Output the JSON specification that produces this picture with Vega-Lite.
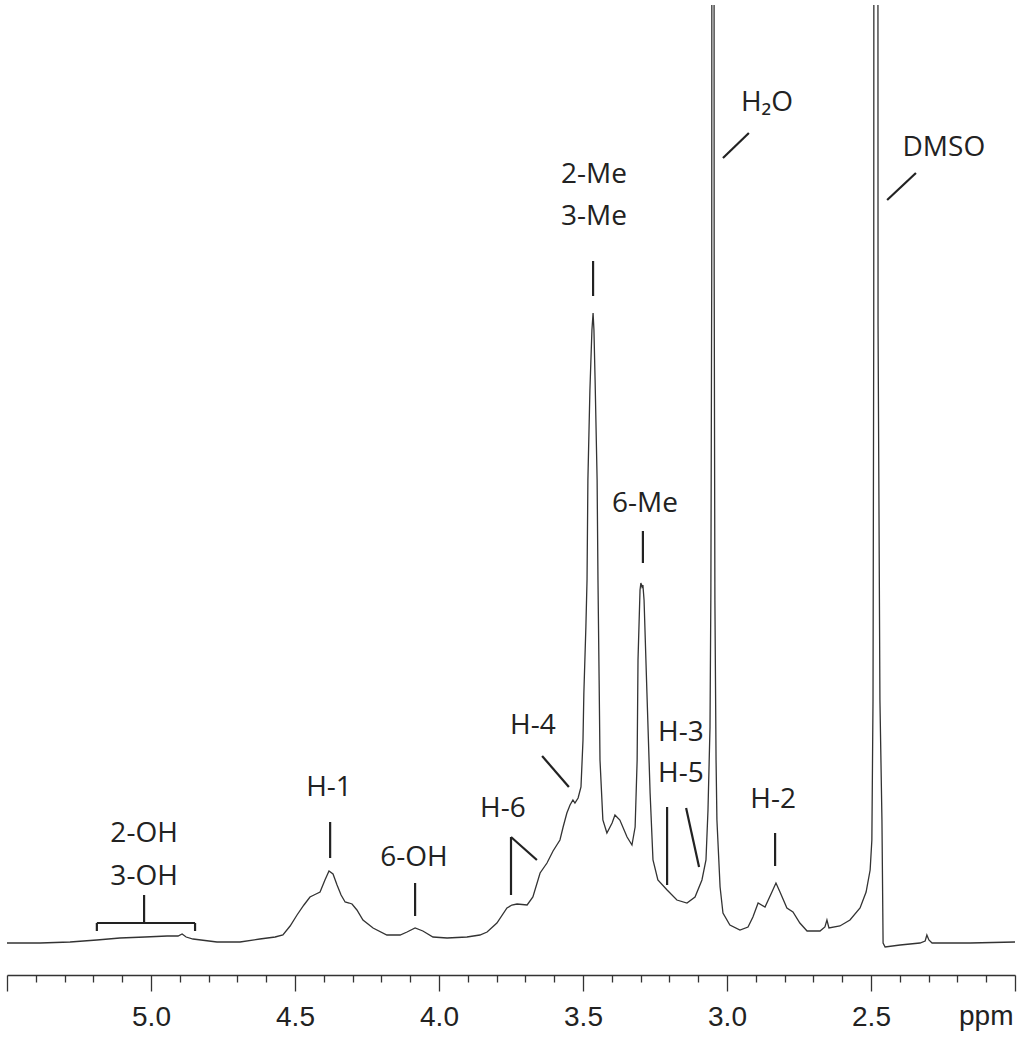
{
  "$schema": "https://vega.github.io/schema/vega-lite/v6.json",
  "width": 1008,
  "height": 970,
  "autosize": {"type": "none"},
  "padding": {"left": 7, "top": 5, "right": 9, "bottom": 63},
  "background": "white",
  "config": {"view": {"stroke": null}},
  "datasets": {
    "spectrum": [
      {"ppm": 5.500, "i": 32}, {"ppm": 5.385, "i": 32}, {"ppm": 5.281, "i": 33}, {"ppm": 5.188, "i": 35},
      {"ppm": 5.108, "i": 37}, {"ppm": 5.021, "i": 38}, {"ppm": 4.944, "i": 39}, {"ppm": 4.906, "i": 39},
      {"ppm": 4.892, "i": 41}, {"ppm": 4.878, "i": 38}, {"ppm": 4.854, "i": 36}, {"ppm": 4.771, "i": 33},
      {"ppm": 4.691, "i": 33}, {"ppm": 4.622, "i": 36}, {"ppm": 4.569, "i": 38}, {"ppm": 4.542, "i": 40},
      {"ppm": 4.517, "i": 49}, {"ppm": 4.493, "i": 60}, {"ppm": 4.469, "i": 70}, {"ppm": 4.448, "i": 78},
      {"ppm": 4.427, "i": 81}, {"ppm": 4.413, "i": 83}, {"ppm": 4.396, "i": 95}, {"ppm": 4.382, "i": 104},
      {"ppm": 4.368, "i": 101}, {"ppm": 4.354, "i": 90}, {"ppm": 4.340, "i": 80}, {"ppm": 4.326, "i": 73},
      {"ppm": 4.312, "i": 72}, {"ppm": 4.302, "i": 71}, {"ppm": 4.285, "i": 65}, {"ppm": 4.264, "i": 55},
      {"ppm": 4.229, "i": 47}, {"ppm": 4.181, "i": 40}, {"ppm": 4.135, "i": 40}, {"ppm": 4.111, "i": 43},
      {"ppm": 4.083, "i": 47}, {"ppm": 4.056, "i": 44}, {"ppm": 4.021, "i": 38}, {"ppm": 3.972, "i": 37},
      {"ppm": 3.903, "i": 38}, {"ppm": 3.858, "i": 40}, {"ppm": 3.833, "i": 43}, {"ppm": 3.799, "i": 52},
      {"ppm": 3.764, "i": 67}, {"ppm": 3.747, "i": 70}, {"ppm": 3.729, "i": 71}, {"ppm": 3.694, "i": 70},
      {"ppm": 3.674, "i": 78}, {"ppm": 3.649, "i": 102}, {"ppm": 3.625, "i": 112}, {"ppm": 3.604, "i": 124},
      {"ppm": 3.580, "i": 135}, {"ppm": 3.569, "i": 148}, {"ppm": 3.556, "i": 162}, {"ppm": 3.545, "i": 170},
      {"ppm": 3.535, "i": 175}, {"ppm": 3.528, "i": 172}, {"ppm": 3.517, "i": 177}, {"ppm": 3.507, "i": 188},
      {"ppm": 3.500, "i": 235}, {"ppm": 3.497, "i": 282}, {"ppm": 3.490, "i": 348}, {"ppm": 3.486, "i": 395},
      {"ppm": 3.483, "i": 495}, {"ppm": 3.476, "i": 585}, {"ppm": 3.469, "i": 645}, {"ppm": 3.465, "i": 662},
      {"ppm": 3.462, "i": 645}, {"ppm": 3.458, "i": 595}, {"ppm": 3.451, "i": 495}, {"ppm": 3.448, "i": 395},
      {"ppm": 3.444, "i": 295}, {"ppm": 3.441, "i": 215}, {"ppm": 3.431, "i": 155}, {"ppm": 3.417, "i": 142},
      {"ppm": 3.399, "i": 152}, {"ppm": 3.389, "i": 160}, {"ppm": 3.372, "i": 155}, {"ppm": 3.347, "i": 138},
      {"ppm": 3.330, "i": 130}, {"ppm": 3.319, "i": 148}, {"ppm": 3.312, "i": 215}, {"ppm": 3.309, "i": 315},
      {"ppm": 3.302, "i": 385}, {"ppm": 3.299, "i": 392}, {"ppm": 3.295, "i": 388}, {"ppm": 3.292, "i": 390},
      {"ppm": 3.288, "i": 375}, {"ppm": 3.278, "i": 282}, {"ppm": 3.267, "i": 182}, {"ppm": 3.257, "i": 115},
      {"ppm": 3.240, "i": 95}, {"ppm": 3.208, "i": 85}, {"ppm": 3.174, "i": 75}, {"ppm": 3.139, "i": 72},
      {"ppm": 3.111, "i": 78}, {"ppm": 3.087, "i": 95}, {"ppm": 3.073, "i": 115}, {"ppm": 3.066, "i": 165},
      {"ppm": 3.059, "i": 248}, {"ppm": 3.056, "i": 382}, {"ppm": 3.053, "i": 700}, {"ppm": 3.052, "i": 1500},
      {"ppm": 3.0455, "i": 1500}, {"ppm": 3.0445, "i": 700}, {"ppm": 3.042, "i": 375}, {"ppm": 3.038, "i": 215},
      {"ppm": 3.035, "i": 155},
      {"ppm": 3.024, "i": 88}, {"ppm": 3.014, "i": 62}, {"ppm": 2.990, "i": 50}, {"ppm": 2.955, "i": 45},
      {"ppm": 2.927, "i": 48}, {"ppm": 2.910, "i": 58}, {"ppm": 2.892, "i": 72}, {"ppm": 2.868, "i": 68},
      {"ppm": 2.844, "i": 83}, {"ppm": 2.830, "i": 92}, {"ppm": 2.816, "i": 83}, {"ppm": 2.792, "i": 67},
      {"ppm": 2.771, "i": 63}, {"ppm": 2.747, "i": 52}, {"ppm": 2.722, "i": 44}, {"ppm": 2.677, "i": 44},
      {"ppm": 2.660, "i": 48}, {"ppm": 2.653, "i": 55}, {"ppm": 2.646, "i": 47}, {"ppm": 2.608, "i": 49},
      {"ppm": 2.573, "i": 55}, {"ppm": 2.538, "i": 67}, {"ppm": 2.517, "i": 83}, {"ppm": 2.503, "i": 105},
      {"ppm": 2.497, "i": 135}, {"ppm": 2.493, "i": 275}, {"ppm": 2.4905, "i": 650}, {"ppm": 2.4895, "i": 1500},
      {"ppm": 2.4765, "i": 1500}, {"ppm": 2.4755, "i": 650}, {"ppm": 2.469, "i": 275}, {"ppm": 2.462, "i": 155},
      {"ppm": 2.458, "i": 32},
      {"ppm": 2.451, "i": 28}, {"ppm": 2.399, "i": 30}, {"ppm": 2.330, "i": 32}, {"ppm": 2.312, "i": 34},
      {"ppm": 2.306, "i": 40}, {"ppm": 2.299, "i": 35}, {"ppm": 2.288, "i": 32}, {"ppm": 2.156, "i": 32},
      {"ppm": 2.000, "i": 33}
    ],
    "marks": [
      {"ppm": 5.024, "ppm2": 5.024, "i": 80, "i2": 53},
      {"ppm": 5.188, "ppm2": 4.847, "i": 52, "i2": 52},
      {"ppm": 5.188, "ppm2": 5.188, "i": 52, "i2": 44},
      {"ppm": 4.847, "ppm2": 4.847, "i": 52, "i2": 44},
      {"ppm": 4.378, "ppm2": 4.378, "i": 153, "i2": 117},
      {"ppm": 4.083, "ppm2": 4.083, "i": 92, "i2": 59},
      {"ppm": 3.750, "ppm2": 3.750, "i": 138, "i2": 80},
      {"ppm": 3.750, "ppm2": 3.660, "i": 138, "i2": 115},
      {"ppm": 3.642, "ppm2": 3.549, "i": 219, "i2": 188},
      {"ppm": 3.465, "ppm2": 3.465, "i": 714, "i2": 679},
      {"ppm": 3.292, "ppm2": 3.292, "i": 444, "i2": 412},
      {"ppm": 3.208, "ppm2": 3.208, "i": 168, "i2": 90},
      {"ppm": 3.142, "ppm2": 3.097, "i": 167, "i2": 108},
      {"ppm": 2.833, "ppm2": 2.833, "i": 142, "i2": 109},
      {"ppm": 3.014, "ppm2": 2.924, "i": 817, "i2": 842},
      {"ppm": 2.444, "ppm2": 2.344, "i": 775, "i2": 802}
    ],
    "labels": [
      {"label": "2-OH", "ppm": 5.024, "i": 143},
      {"label": "3-OH", "ppm": 5.024, "i": 100},
      {"label": "H-1", "ppm": 4.382, "i": 189},
      {"label": "6-OH", "ppm": 4.087, "i": 119},
      {"label": "H-6", "ppm": 3.778, "i": 168},
      {"label": "H-4", "ppm": 3.674, "i": 251},
      {"label": "2-Me", "ppm": 3.462, "i": 802},
      {"label": "3-Me", "ppm": 3.462, "i": 760},
      {"label": "6-Me", "ppm": 3.285, "i": 473},
      {"label": "H-3", "ppm": 3.160, "i": 244},
      {"label": "H-5", "ppm": 3.160, "i": 203},
      {"label": "H-2", "ppm": 2.840, "i": 177},
      {"label": "H₂O", "ppm": 2.861, "i": 874},
      {"label": "DMSO", "ppm": 2.247, "i": 829}
    ]
  },
  "layer": [
    {
      "data": {"name": "spectrum"},
      "mark": {"type": "line", "clip": true, "stroke": "#333333", "strokeWidth": 1.3},
      "encoding": {
        "x": {
          "field": "ppm", "type": "quantitative",
          "scale": {"domain": [2, 5.5], "reverse": true, "nice": false, "zero": false},
          "axis": {
            "orient": "bottom",
            "values": [2, 2.5, 3, 3.5, 4, 4.5, 5, 5.5],
            "labelExpr": "datum.value == 2 || datum.value == 5.5 ? '' : format(datum.value, '.1f')",
            "tickSize": 16, "tickWidth": 1.3, "tickColor": "#333333",
            "domainColor": "#333333", "domainWidth": 1.3,
            "labelFont": "Liberation Sans", "labelFontSize": 28, "labelColor": "#222222",
            "labelPadding": 12, "labelFlush": false, "labelOverlap": false, "labelBound": false,
            "grid": false,
            "title": "ppm", "titleFont": "Liberation Sans", "titleFontSize": 28, "titleFontWeight": "normal",
            "titleColor": "#222222", "titleAnchor": "end", "titleAlign": "right", "titleBaseline": "alphabetic",
            "titleX": 1006, "titleY": 49
          }
        },
        "y": {"field": "i", "type": "quantitative", "scale": {"domain": [0, 970], "nice": false, "zero": false}, "axis": null}
      }
    },
    {
      "data": {"name": "marks"},
      "mark": {"type": "rule", "stroke": "#222222", "strokeWidth": 2.2},
      "encoding": {
        "x": {
          "field": "ppm", "type": "quantitative",
          "axis": {
            "orient": "bottom",
            "values": [2.1, 2.2, 2.3, 2.4, 2.6, 2.7, 2.8, 2.9, 3.1, 3.2, 3.3, 3.4, 3.6, 3.7, 3.8, 3.9, 4.1, 4.2, 4.3, 4.4, 4.6, 4.7, 4.8, 4.9, 5.1, 5.2, 5.3, 5.4],
            "tickSize": 7, "tickWidth": 1.3, "tickColor": "#333333",
            "labels": false, "domain": false, "grid": false, "title": null
          }
        },
        "x2": {"field": "ppm2"},
        "y": {"field": "i", "type": "quantitative", "axis": null},
        "y2": {"field": "i2"}
      }
    },
    {
      "data": {"name": "labels"},
      "mark": {"type": "text", "font": "Open Sans", "fontSize": 28, "fill": "#222222", "align": "center", "baseline": "middle", "dy": 2},
      "encoding": {
        "x": {"field": "ppm", "type": "quantitative", "axis": null},
        "y": {"field": "i", "type": "quantitative", "axis": null},
        "text": {"field": "label"}
      }
    }
  ],
  "resolve": {"axis": {"x": "independent"}}
}
